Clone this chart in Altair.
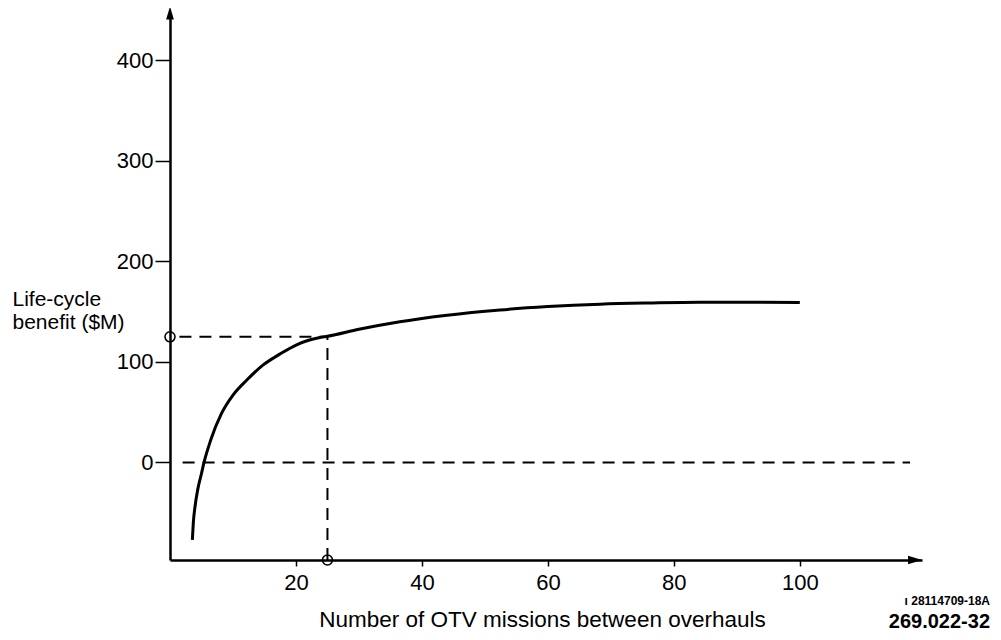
import altair as alt
import pandas as pd

# --- data ---
missions = [3.55, 3.7, 3.97, 4.4, 5.0, 5.4, 6.45, 8.2, 10, 12.2, 14.8, 17.5,
            20.1, 22, 24, 25, 30, 36.5, 44, 52.4, 60, 68.3, 76, 84, 92, 100]
benefit = [-77, -60, -44, -27, -11, 0, 22, 49, 67, 82, 97, 108,
           117, 121.5, 124.5, 125.5, 132.5, 140, 146.5, 151.7, 155, 157.4,
           158.6, 159.4, 159.4, 159]
x_ticks = [20, 40, 60, 80, 100]
y_ticks = [0, 100, 200, 300, 400]
x_domain = [0, 119.4]
y_domain = [-97, 447]
guide_x = 25          # missions between overhauls (optimum)
guide_y = 125         # life-cycle benefit at optimum ($M)
zero_from, zero_to = 2, 117.5
y_title = ["Life-cycle", "benefit ($M)"]
x_title = "Number of OTV missions between overhauls"
note_small = "ı 28114709-18A"
note_big = "269.022-32"

FONT = "Liberation Sans"

xscale = alt.Scale(domain=x_domain, nice=False, zero=False)
yscale = alt.Scale(domain=y_domain, nice=False, zero=False)

xaxis = alt.Axis(values=x_ticks, grid=False, domainColor="black", domainWidth=2.5,
                 tickColor="black", tickSize=6, tickWidth=1.5, labelFontSize=22,
                 labelFont=FONT, labelColor="black", labelPadding=6,
                 title=x_title, titleFont=FONT, titleFontSize=22.5,
                 titleFontWeight="normal", titleColor="black",
                 titleX=372, titleY=66, titleBaseline="alphabetic",
                 titleAnchor="middle", titleAlign="center", labelFlush=False)
yaxis = alt.Axis(values=y_ticks, grid=False, domainColor="black", domainWidth=2.5,
                 tickColor="black", tickSize=15, tickWidth=1.5, labelFontSize=22,
                 labelFont=FONT, labelColor="black", labelPadding=2,
                 title=y_title, titleFont=FONT, titleFontSize=21,
                 titleFontWeight="normal", titleColor="black", titleAngle=0,
                 titleAlign="left", titleBaseline="alphabetic",
                 titleX=-158, titleY=292, titleLineHeight=23, labelFlush=False)


def X(field="x"):
    return alt.X(f"{field}:Q", scale=xscale, axis=xaxis)


def Y(field="y"):
    return alt.Y(f"{field}:Q", scale=yscale, axis=yaxis)


curve_df = pd.DataFrame({"x": missions, "y": benefit})
curve = alt.Chart(curve_df).mark_line(color="black", strokeWidth=3,
                                      interpolate="monotone").encode(x=X(), y=Y())

rules_df = pd.DataFrame({
    "x": [zero_from, 1.5, guide_x],
    "x2": [zero_to, guide_x, guide_x],
    "y": [0, guide_y, y_domain[0]],
    "y2": [0, guide_y, guide_y],
})
rules = alt.Chart(rules_df).mark_rule(color="black", strokeWidth=2,
                                      strokeDash=[12, 8]).encode(
    x=X(), x2="x2:Q", y=Y(), y2="y2:Q")

circ_df = pd.DataFrame({"x": [0, guide_x], "y": [guide_y, y_domain[0]]})
circles = alt.Chart(circ_df).mark_point(shape="circle", size=100, filled=False,
                                        color="black", strokeWidth=1.6,
                                        opacity=1).encode(x=X(), y=Y())

arrow_r_df = pd.DataFrame({"x": [118.3], "y": [y_domain[0]]})
arrow_r = alt.Chart(arrow_r_df).mark_point(
    shape="M-1,-0.6L1,0L-1,0.6Z", size=196, filled=True, color="black",
    opacity=1).encode(x=X(), y=Y())

arrow_u_df = pd.DataFrame({"x": [0], "y": [y_domain[1]]})
arrow_u = alt.Chart(arrow_u_df).mark_point(
    shape="M-0.6,1L0,-1L0.6,1Z", size=169, filled=True, color="black",
    opacity=1).encode(x=X(), y=Y())

note1 = alt.Chart(pd.DataFrame({"t": [note_small]})).mark_text(
    font=FONT, fontSize=12, fontWeight="bold", align="right",
    baseline="alphabetic", color="black").encode(
    text="t:N", x=alt.value(820), y=alt.value(592))
note2 = alt.Chart(pd.DataFrame({"t": [note_big]})).mark_text(
    font=FONT, fontSize=20, fontWeight="bold", align="right",
    baseline="alphabetic", color="black").encode(
    text="t:N", x=alt.value(820), y=alt.value(615))

chart = alt.layer(rules, curve, circles, arrow_r, arrow_u, note1, note2).properties(
    width=752, height=547,
    padding={"left": 162, "top": 5, "right": 71, "bottom": 72},
    autosize=alt.AutoSizeParams(type="none"),
    background="white",
).configure_view(stroke=None)

chart.save("out.html", embed_options={"renderer": "svg", "actions": False})
